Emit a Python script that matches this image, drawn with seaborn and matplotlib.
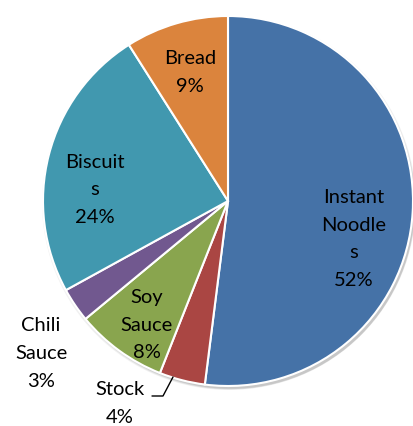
import matplotlib
matplotlib.use("Agg")
import matplotlib.pyplot as plt
from matplotlib.patches import Circle
import seaborn as sns

# Share of each product
categories = ["Instant\nNoodle\ns", "Stock", "Soy\nSauce", "Chili\nSauce", "Biscuit\ns", "Bread"]
shares = [52, 4, 8, 3, 24, 9]
colors = ["#4572A7", "#AA4643", "#89A54E", "#71588F", "#4198AF", "#DB843D"]

sns.set_theme(style="white")
plt.rcParams["font.family"] = ["Lato", "DejaVu Sans"]

W, H = 414, 427
fig = plt.figure(figsize=(W / 100, H / 100), dpi=100)
ax = fig.add_axes([0, 0, 1, 1])

cx, cy, r = 228, H - 202, 185

# soft drop shadow under the pie
for i, a in enumerate([0.05, 0.05, 0.06, 0.07]):
    ax.add_patch(Circle((cx + 1 + i * 0.6, cy - 2 - i * 0.6), r + 2 - i, color="black",
                        alpha=a, lw=0, zorder=0))

palette = sns.color_palette(colors)
wedges, _ = ax.pie(shares, colors=palette, startangle=90, counterclock=False,
                   center=(cx, cy), radius=r, frame=True,
                   wedgeprops=dict(edgecolor="white", linewidth=1.5))
for w in wedges:
    w.set_zorder(2)
ax.set_xlim(0, W)
ax.set_ylim(0, H)
ax.set_aspect("equal")
ax.axis("off")

# label centres, in units of the radius from the pie centre
label_pos = [(0.68, -0.20), (-0.585, -1.09), (-0.44, -0.665),
             (-1.01, -0.82), (-0.72, 0.065), (-0.205, 0.70)]
for name, val, (dx, dy) in zip(categories, shares, label_pos):
    ax.text(cx + dx * r, cy + dy * r, f"{name}\n{val}%", ha="center", va="center",
            fontsize=14.5, color="black", linespacing=1.78, zorder=5)

# leader line for the small slice
ax.plot([152, 163, 173], [H - 397, H - 397, H - 378], color="black", lw=1, zorder=5)

fig.savefig("out.png", dpi=100)
